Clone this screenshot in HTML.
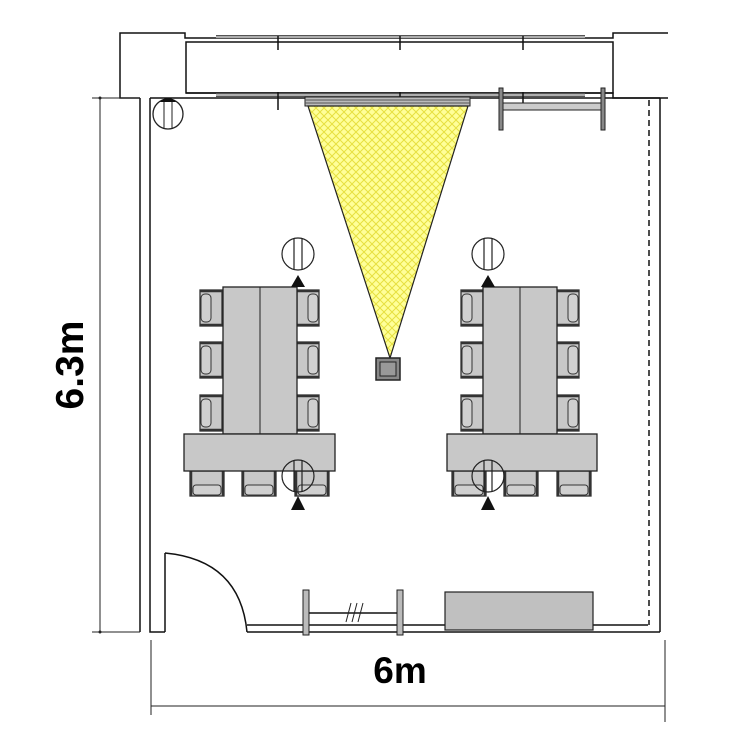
<!DOCTYPE html>
<html><head><style>body{margin:0;background:#fff}svg{display:block}</style></head><body>
<svg width="750" height="750" viewBox="0 0 750 750" xmlns="http://www.w3.org/2000/svg">
<defs>
<pattern id="hatch" width="8" height="8" patternUnits="userSpaceOnUse">
<rect width="8" height="8" fill="#ffff99"/>
<path d="M0 0L8 8M8 0L0 8" stroke="#e6e040" stroke-width="1"/>
</pattern>
<g id="chL"><rect x="0" y="0" width="22" height="36" fill="#c8c8c8" stroke="#333" stroke-width="1.3"/><path d="M0 1H22M0 35H22" stroke="#333" stroke-width="2.5"/><rect x="1" y="4" width="10" height="28" rx="4" fill="#d0d0d0" stroke="#333"/></g>
<g id="chR"><rect x="0" y="0" width="22" height="36" fill="#c8c8c8" stroke="#333" stroke-width="1.3"/><path d="M0 1H22M0 35H22" stroke="#333" stroke-width="2.5"/><rect x="11" y="4" width="10" height="28" rx="4" fill="#d0d0d0" stroke="#333"/></g>
<g id="chB"><rect x="0" y="0" width="34" height="25" fill="#c8c8c8" stroke="#333" stroke-width="1.3"/><path d="M1 0V25M33 0V25" stroke="#333" stroke-width="2.5"/><rect x="3" y="14" width="28" height="10" rx="3" fill="#d0d0d0" stroke="#333"/></g>
<g id="lamp"><circle r="16" fill="#fff" stroke="#222" stroke-width="1.2"/><path d="M-4 -16V16M4 -16V16" stroke="#222" stroke-width="1.2"/></g>
</defs>
<g fill="none" stroke="#111" stroke-width="1.5">
<path d="M140 98H120V33H185V38H613V33H668"/>
<rect x="186" y="42" width="427" height="51" fill="#fff"/>
<path d="M186 93H613V98H668"/>
<path d="M216 37H585M216 95H585" stroke="#555" stroke-width="4"/>
<path d="M216 37H585M216 95H585" stroke="#ccc" stroke-width="1.5"/>
<path d="M278 36V50M400 36V50M523 36V50M278 92V110M400 92V110M523 92V106"/>
<path d="M140 98V632M150 98V632H165"/>
<path d="M660 98V632M150 98H660"/>
<path d="M649 100V625" stroke-dasharray="6 4"/>
<path d="M247 625H648M247 632H660"/>
<path d="M165 553V632M165 553Q240 560 247 632"/>
</g>
<g transform="translate(168,114)"><circle r="15" fill="#fff" stroke="#222" stroke-width="1.3"/><path d="M-4 -15V15M4 -15V15" stroke="#222"/><path d="M-8 -12A10 10 0 0 1 8 -12Z" fill="#111"/></g>
<rect x="499" y="88" width="4" height="42" fill="#888" stroke="#222"/>
<rect x="601" y="88" width="4" height="42" fill="#888" stroke="#222"/>
<rect x="503" y="103" width="98" height="7" fill="#ccc" stroke="#222"/>
<rect x="305" y="97" width="165" height="9" fill="#bbb" stroke="#222"/>
<path d="M305 100H470M305 103H470" stroke="#555"/>
<path d="M308 106L468 106L390 358Z" fill="url(#hatch)" stroke="#222" stroke-width="1.2"/>
<rect x="376" y="358" width="24" height="22" fill="#888" stroke="#222" stroke-width="1.5"/>
<rect x="380" y="362" width="16" height="14" fill="#999" stroke="#222"/>
<use href="#chL" x="200" y="290"/><use href="#chL" x="200" y="342"/><use href="#chL" x="200" y="395"/>
<use href="#chR" x="297" y="290"/><use href="#chR" x="297" y="342"/><use href="#chR" x="297" y="395"/>
<use href="#chB" x="190" y="471"/><use href="#chB" x="242" y="471"/><use href="#chB" x="295" y="471"/>
<rect x="223" y="287" width="74" height="147" fill="#c8c8c8" stroke="#222" stroke-width="1.3"/>
<path d="M260 287V434" stroke="#222"/>
<rect x="184" y="434" width="151" height="37" fill="#c8c8c8" stroke="#222" stroke-width="1.3"/>
<use href="#lamp" x="298" y="254"/>
<g transform="translate(298,476)"><circle r="16" fill="none" stroke="#222" stroke-width="1.2"/><path d="M-4 -16V16M4 -16V16" stroke="#222" stroke-width="1.2"/></g>
<path d="M291 287L298 275L305 287Z M291 510L298 496L305 510Z" fill="#111"/>
<use href="#chL" x="461" y="290"/><use href="#chL" x="461" y="342"/><use href="#chL" x="461" y="395"/>
<use href="#chR" x="557" y="290"/><use href="#chR" x="557" y="342"/><use href="#chR" x="557" y="395"/>
<use href="#chB" x="452" y="471"/><use href="#chB" x="504" y="471"/><use href="#chB" x="557" y="471"/>
<rect x="483" y="287" width="74" height="147" fill="#c8c8c8" stroke="#222" stroke-width="1.3"/>
<path d="M520 287V434" stroke="#222"/>
<rect x="447" y="434" width="150" height="37" fill="#c8c8c8" stroke="#222" stroke-width="1.3"/>
<use href="#lamp" x="488" y="254"/>
<g transform="translate(488,476)"><circle r="16" fill="none" stroke="#222" stroke-width="1.2"/><path d="M-4 -16V16M4 -16V16" stroke="#222" stroke-width="1.2"/></g>
<path d="M481 287L488 275L495 287Z M481 510L488 496L495 510Z" fill="#111"/>
<rect x="303" y="590" width="6" height="45" fill="#bbb" stroke="#222"/>
<rect x="397" y="590" width="6" height="45" fill="#bbb" stroke="#222"/>
<path d="M309 613H397" stroke="#111" stroke-width="1.5"/>
<path d="M346 622L351 603M352 622L357 603M358 622L363 603" stroke="#222"/>
<rect x="445" y="592" width="148" height="38" fill="#c0c0c0" stroke="#222" stroke-width="1.2"/>
<g stroke="#222" stroke-width="1">
<path d="M100 98V632M92 98H140M92 632H140"/>
<path d="M151 640V715M665 640V722M151 706H665"/>
</g>
<circle cx="100" cy="98" r="1.5" fill="#222"/><circle cx="100" cy="632" r="1.5" fill="#222"/>
<text x="400" y="683" text-anchor="middle" font-family="Liberation Sans, sans-serif" font-size="37" font-weight="bold">6m</text>
<text transform="translate(83,365) rotate(-90)" text-anchor="middle" font-family="Liberation Sans, sans-serif" font-size="39" font-weight="bold">6.3m</text>
</svg>
</body></html>
